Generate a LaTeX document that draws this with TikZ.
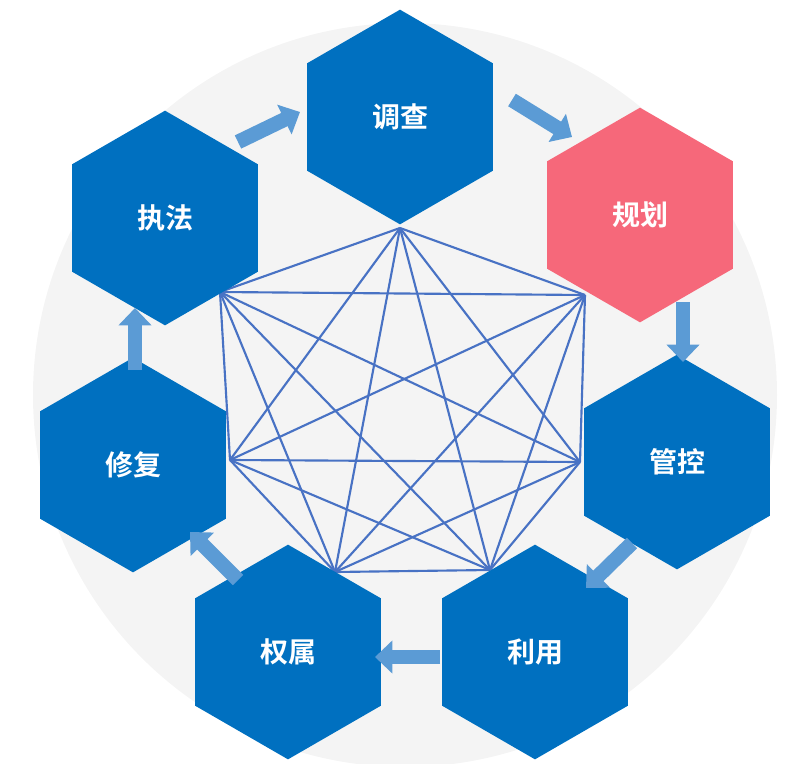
\documentclass[tikz,border=0pt]{standalone}
\usepackage{fontspec}
\newfontfamily\cjk{Noto Sans CJK SC}[BoldFont={Noto Sans CJK SC Bold}]
\usetikzlibrary{shapes.geometric,arrows.meta,calc}
\definecolor{hexblue}{RGB}{0,112,192}
\definecolor{hexpink}{RGB}{246,104,122}
\definecolor{flowblue}{RGB}{91,155,213}
\definecolor{webline}{RGB}{72,114,196}
\tikzset{
  hexnode/.style={regular polygon, regular polygon sides=6, shape border rotate=30,
    minimum size=161pt, inner sep=0pt, fill=hexblue, text=white,
    font=\cjk\bfseries\fontsize{21}{24}\selectfont},
  flow/.style={draw=flowblue, line width=11pt,
    -{Triangle[width=24pt,length=13pt]}},
  web/.style={draw=webline, line width=1.6pt}
}
\begin{document}
\begin{tikzpicture}[x=0.75pt,y=-0.75pt]
   \useasboundingbox (0,0) rectangle (800,764);
   \fill[gray!9] (405,395) circle (372);

   % central web
   \coordinate (p1) at (400,228);
   \coordinate (p2) at (585,295);
   \coordinate (p3) at (580,462);
   \coordinate (p4) at (490,570);
   \coordinate (p5) at (335,572);
   \coordinate (p6) at (230,460);
   \coordinate (p7) at (220,292);
   \foreach \i in {1,...,7}
      \foreach \j in {\i,...,7}
         \draw[web] (p\i) -- (p\j);

   % hexagons
   \node[hexnode] (survey) at (400,117) {调查};
   \node[hexnode, fill=hexpink] (plan) at (640,215) {规划};
   \node[hexnode] (control) at (677,462) {管控};
   \node[hexnode] (use) at (535,652) {利用};
   \node[hexnode] (owner) at (288,652) {权属};
   \node[hexnode] (repair) at (133,465) {修复};
   \node[hexnode] (enforce) at (165,218) {执法};

   % flow arrows
   \coordinate (a1) at (238,142); \coordinate (b1) at (300,112);
   \coordinate (a2) at (512,100); \coordinate (b2) at (572,137);
   \coordinate (a3) at (683,302); \coordinate (b3) at (683,362);
   \coordinate (a4) at (632,543); \coordinate (b4) at (586,588);
   \coordinate (a5) at (440,657); \coordinate (b5) at (375,657);
   \coordinate (a6) at (238,580); \coordinate (b6) at (190,532);
   \coordinate (a7) at (135,370); \coordinate (b7) at (135,308);
   \foreach \k in {1,...,7}
      \draw[flow] (a\k) -- (b\k);
\end{tikzpicture}
\end{document}
